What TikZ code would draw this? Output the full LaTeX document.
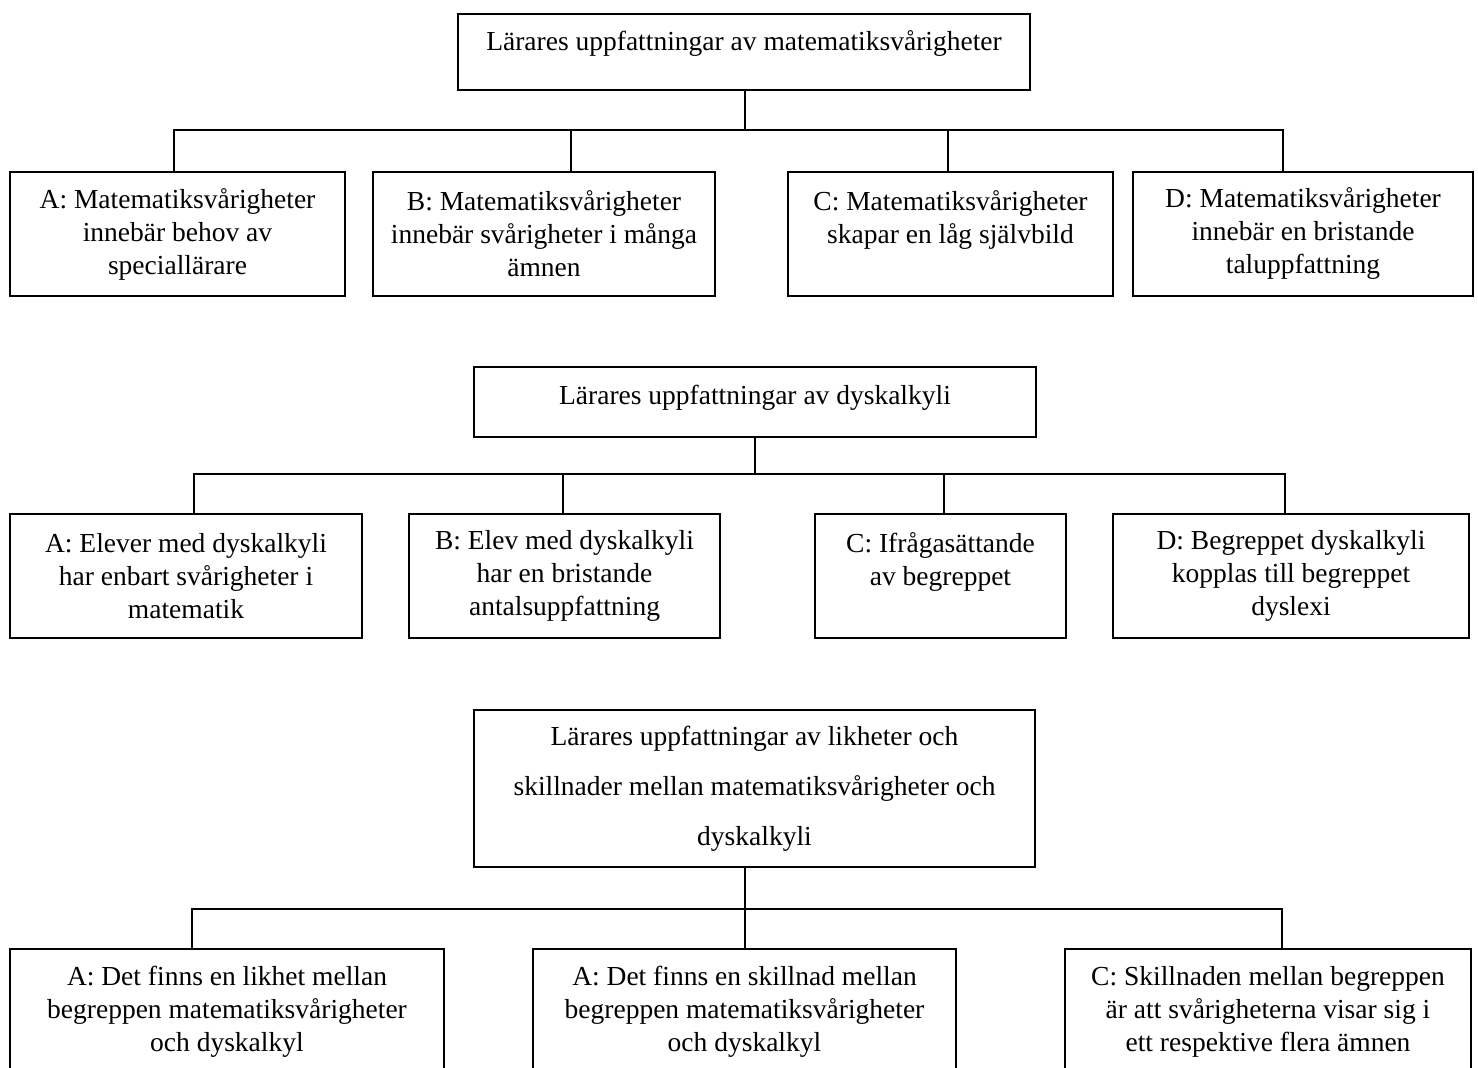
\documentclass[tikz,border=0pt]{standalone}
\usepackage{fontspec}
\setmainfont{Liberation Serif}

\tikzset{
    box/.style={draw, line width=2pt, align=center, inner sep=0pt,
        font=\fontsize{27.5}{33}\selectfont},
    link/.style={line width=2pt},
}

\begin{document}
\begin{tikzpicture}[x=1pt, y=-1pt]
            \useasboundingbox (0,0) rectangle (1478,1068);
            % matematiksvarigheter
            \node[box, minimum width=572pt, minimum height=76pt, text depth=22pt] (top1) at (744,52) {Lärares uppfattningar av matematiksvårigheter};
            \node[box, minimum width=335pt, minimum height=124pt] (a1) at (177.5,234) {A: Matematiksvårigheter\\innebär behov av\\speciallärare};
            \node[box, minimum width=342pt, minimum height=124pt] (b1) at (544,234) {B: Matematiksvårigheter\\innebär svårigheter i många\\ämnen};
            \node[box, minimum width=325pt, minimum height=124pt] (c1) at (950.5,234) {C: Matematiksvårigheter\\skapar en låg självbild\\~};
            \node[box, minimum width=340pt, minimum height=124pt] (d1) at (1303,234) {D: Matematiksvårigheter\\innebär en bristande\\taluppfattning};
            \draw[link] ([xshift=1pt]top1.south) -- ++(0,39) -| ([xshift=-3.5pt]a1.north);
            \draw[link] ([xshift=1pt]top1.south) -- ++(0,39) -| ([xshift=27pt]b1.north);
            \draw[link] ([xshift=1pt]top1.south) -- ++(0,39) -| ([xshift=-2.5pt]c1.north);
            \draw[link] ([xshift=1pt]top1.south) -- ++(0,39) -| ([xshift=-20pt]d1.north);
            % dyskalkyli
            \node[box, minimum width=562pt, minimum height=70pt, text depth=14pt] (top2) at (755,402) {Lärares uppfattningar av dyskalkyli};
            \node[box, minimum width=352pt, minimum height=124pt] (a2) at (186,576) {A: Elever med dyskalkyli\\har enbart svårigheter i\\matematik};
            \node[box, minimum width=311pt, minimum height=124pt] (b2) at (564.5,576) {B: Elev med dyskalkyli\\har en bristande\\antalsuppfattning};
            \node[box, minimum width=251pt, minimum height=124pt] (c2) at (940.5,576) {C: Ifrågasättande\\av begreppet\\~};
            \node[box, minimum width=356pt, minimum height=124pt] (d2) at (1291,576) {D: Begreppet dyskalkyli\\kopplas till begreppet\\dyslexi};
            \draw[link] (top2.south) -- ++(0,36) -| ([xshift=8pt]a2.north);
            \draw[link] (top2.south) -- ++(0,36) -| ([xshift=-1.5pt]b2.north);
            \draw[link] (top2.south) -- ++(0,36) -| ([xshift=3.5pt]c2.north);
            \draw[link] (top2.south) -- ++(0,36) -| ([xshift=-6pt]d2.north);
            % likheter och skillnader
            \node[box, minimum width=561pt, minimum height=157pt, font=\fontsize{27.5}{50}\selectfont] (top3) at (754.5,788.5) {Lärares uppfattningar av likheter och\\skillnader mellan matematiksvårigheter och\\dyskalkyli};
            \node[box, minimum width=434pt, minimum height=125pt] (a3) at (227,1011.5) {A: Det finns en likhet mellan\\begreppen matematiksvårigheter\\och dyskalkyl};
            \node[box, minimum width=423pt, minimum height=125pt] (b3) at (744.5,1011.5) {A: Det finns en skillnad mellan\\begreppen matematiksvårigheter\\och dyskalkyl};
            \node[box, minimum width=406pt, minimum height=125pt] (c3) at (1268,1011.5) {C: Skillnaden mellan begreppen\\är att svårigheterna visar sig i\\ett respektive flera ämnen};
            \draw[link] ([xshift=-9.5pt]top3.south) -- ++(0,41) -| ([xshift=-35pt]a3.north);
            \draw[link] ([xshift=-9.5pt]top3.south) -- ++(0,41) -| ([xshift=0.5pt]b3.north);
            \draw[link] ([xshift=-9.5pt]top3.south) -- ++(0,41) -| ([xshift=14pt]c3.north);
\end{tikzpicture}
\end{document}
